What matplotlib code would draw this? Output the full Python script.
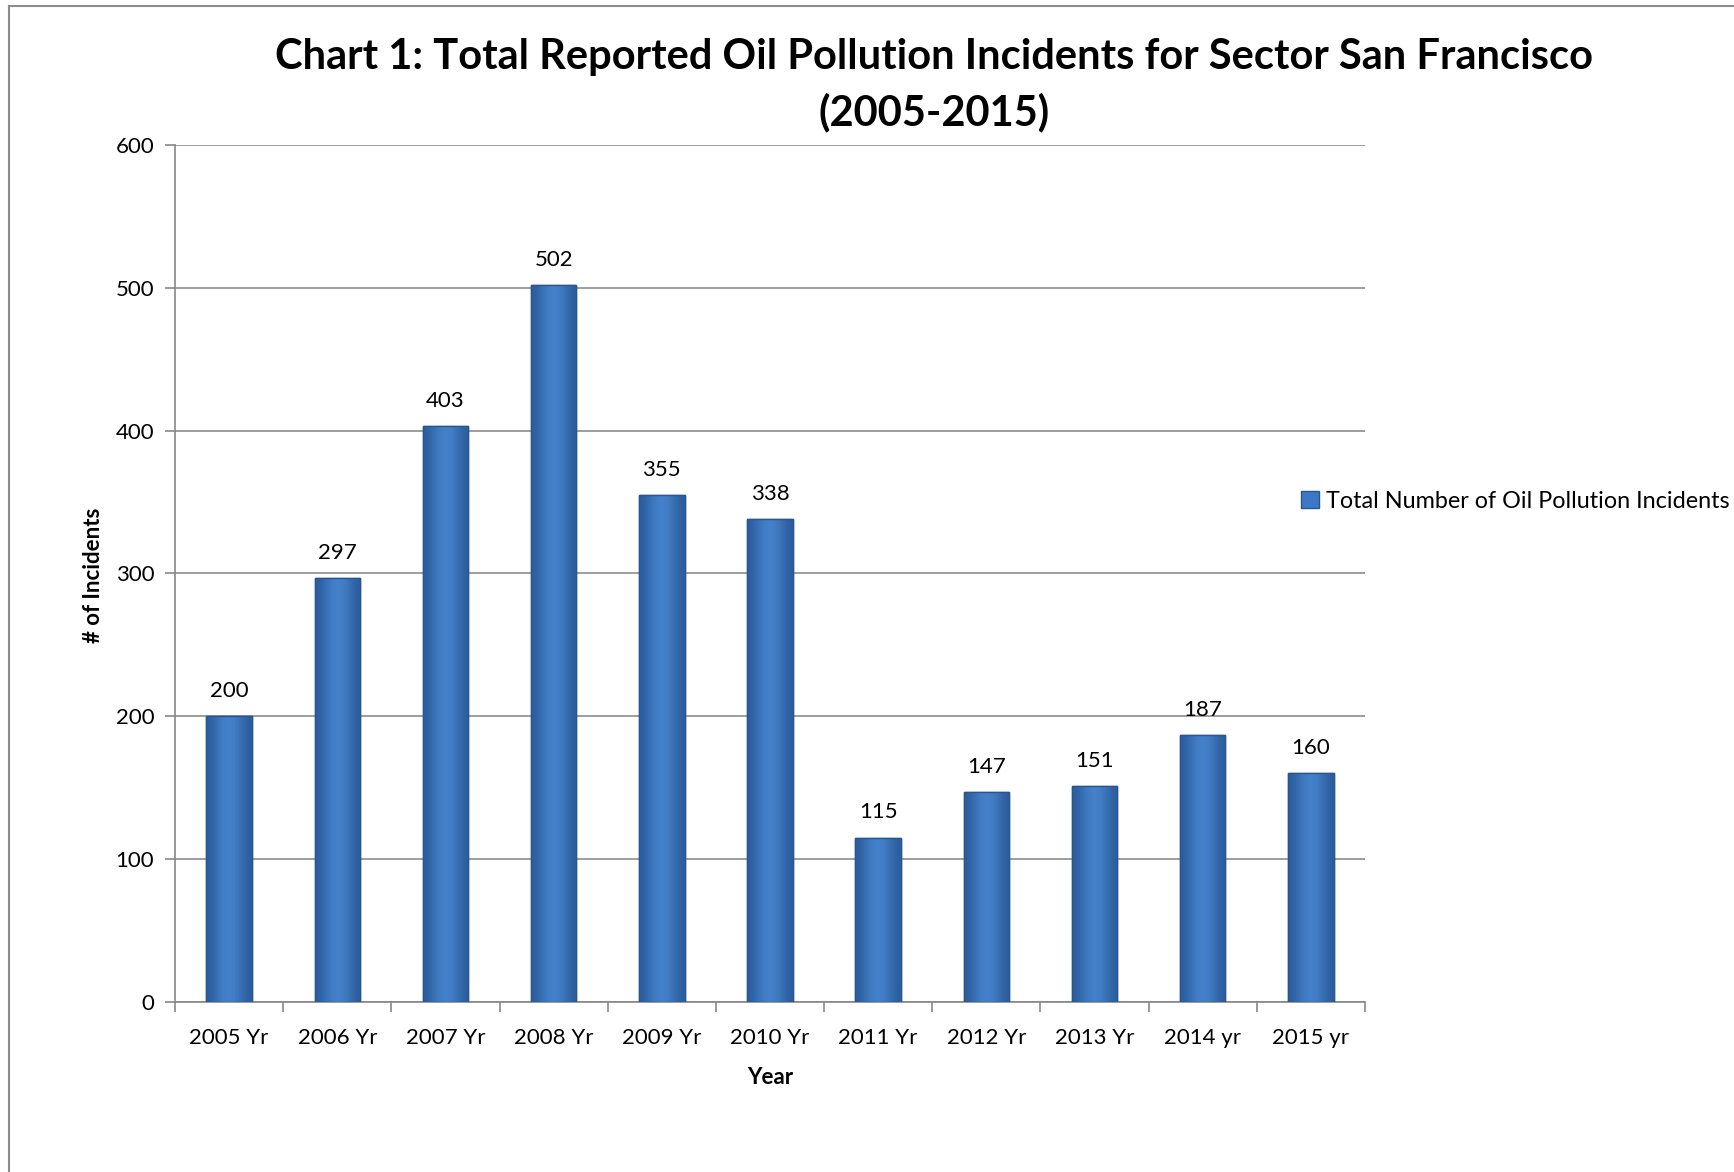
import matplotlib
matplotlib.use("Agg")
import matplotlib.pyplot as plt
import numpy as np
from matplotlib.lines import Line2D
from matplotlib.patches import Patch
from matplotlib.colors import LinearSegmentedColormap

plt.rcParams['font.family'] = ['Lato', 'DejaVu Sans']

categories = ["2005 Yr", "2006 Yr", "2007 Yr", "2008 Yr", "2009 Yr", "2010 Yr",
              "2011 Yr", "2012 Yr", "2013 Yr", "2014 yr", "2015 yr"]
incidents = [200, 297, 403, 502, 355, 338, 115, 147, 151, 187, 160]
yticks = [0, 100, 200, 300, 400, 500, 600]

W, H = 1734, 1172
fig = plt.figure(figsize=(W / 100, H / 100), dpi=100)
ax = fig.add_axes([175 / W, 1 - 1002 / H, (1365 - 175) / W, (1002 - 145) / H])

x = np.arange(len(categories))
bars = ax.bar(x, incidents, width=0.42, color="#3D78C6", edgecolor="#2A568F",
              linewidth=1.0, zorder=3)

# horizontal gradient inside each bar (darker edges, lighter centre)
grad = np.array([0.0, 0.35, 0.7, 0.85, 0.7, 0.35, 0.0])
cmap = LinearSegmentedColormap.from_list("b", ["#2C5E9E", "#4A89D4"])
for b in bars:
    x0, y0 = b.get_x(), b.get_y()
    w, h = b.get_width(), b.get_height()
    im = ax.imshow(grad[np.newaxis, :], cmap=cmap, aspect="auto",
                   extent=[x0, x0 + w, y0, y0 + h], zorder=3.5,
                   interpolation="bicubic", vmin=0, vmax=1)
    im.set_clip_path(b)
    ax.add_patch(plt.Rectangle((x0, y0), w, h, fill=False, edgecolor="#2A568F",
                               linewidth=1.0, zorder=4))

for xi, v in zip(x, incidents):
    ax.annotate(str(v), (xi, v), xytext=(0, 11), textcoords="offset points",
                ha="center", va="bottom", fontsize=16, color="black")

ax.set_xlim(-0.5, len(categories) - 0.5)
ax.set_ylim(0, 600)
ax.set_yticks(yticks)
ax.set_yticklabels([str(t) for t in yticks], fontsize=16)
ax.set_xticks(x)
ax.set_xticklabels(categories, fontsize=16)
ax.set_xticks(np.arange(len(categories) + 1) - 0.5, minor=True)
ax.tick_params(axis="x", which="major", length=0, pad=19)
ax.tick_params(axis="x", which="minor", length=7, color="#888888", width=1.2)
ax.tick_params(axis="y", length=7, color="#888888", width=1.2, pad=8)
ax.grid(axis="y", color="#8C8C8C", linewidth=1.2, zorder=0)
ax.set_axisbelow(True)
for s in ["top", "right"]:
    ax.spines[s].set_visible(False)
for s in ["left", "bottom"]:
    ax.spines[s].set_color("#888888")
    ax.spines[s].set_linewidth(1.2)

fig.text(94 / W, 1 - 575 / H, "# of Incidents", rotation=90, ha="center",
         va="center", fontsize=16, fontweight="bold")
fig.text(770 / W, 1 - 1077 / H, "Year", ha="center", va="center",
         fontsize=16, fontweight="bold")

fig.text(934 / W, 1 - 57 / H, "Chart 1: Total Reported Oil Pollution Incidents for Sector San Francisco",
         ha="center", va="center", fontsize=30, fontweight="bold")
fig.text(934 / W, 1 - 112 / H, "(2005-2015)", ha="center", va="center",
         fontsize=30, fontweight="bold")

handle = Patch(facecolor="#3D78C6", edgecolor="#2A568F")
fig.legend([handle], ["Total Number of Oil Pollution Incidents"],
           loc="center left", bbox_to_anchor=(1292 / W, 1 - 501 / H),
           frameon=False, fontsize=16.8, handlelength=0.75, handleheight=0.75,
           handletextpad=0.3, borderaxespad=0)

# outer chart-area frame (left and top edges visible)
fig.add_artist(Line2D([9 / W, 9 / W], [0, 1 - 6 / H], color="#8C8C8C", linewidth=1.5))
fig.add_artist(Line2D([9 / W, 1], [1 - 6 / H, 1 - 6 / H], color="#8C8C8C", linewidth=1.5))

fig.savefig("out.png", dpi=100)
